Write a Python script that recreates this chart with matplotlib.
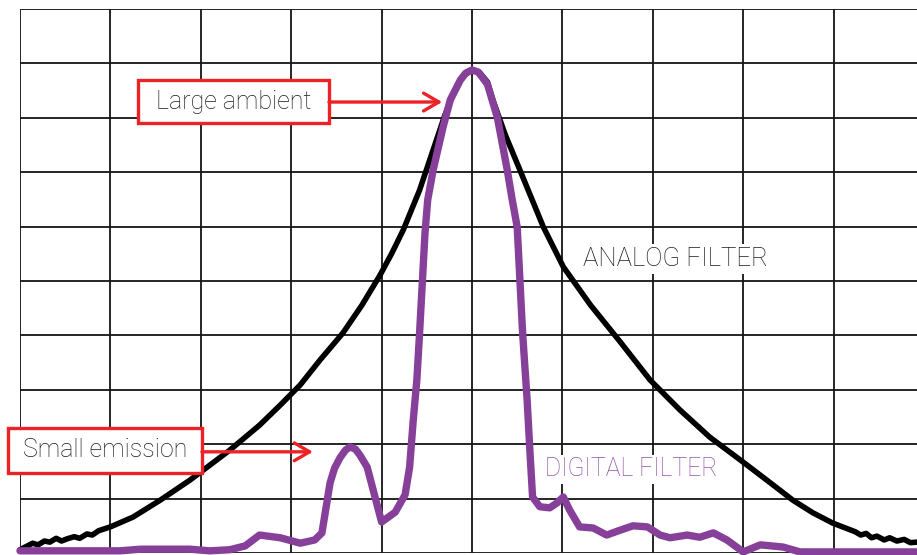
import matplotlib
matplotlib.use("Agg")
import matplotlib.pyplot as plt
from matplotlib.patches import Rectangle

# ---------------------------------------------------------------
# Data (grid units: 1 unit = 1 grid division)
# ---------------------------------------------------------------
analog_x = [0.0, 0.07, 0.14, 0.20, 0.27, 0.33, 0.40, 0.46, 0.52, 0.60, 0.66, 0.74,
            0.80, 0.87, 1.0, 1.25, 1.55, 1.88, 2.32, 2.65, 2.88, 3.10, 3.32, 3.57,
            3.78, 3.98, 4.11, 4.24, 4.42, 4.57, 4.70, 4.81, 4.90, 5.0, 5.09, 5.17,
            5.23, 5.37, 5.53, 5.79, 6.01, 6.31, 6.64, 6.97, 7.30, 7.63, 8.0, 8.30,
            8.55, 8.77, 8.99, 9.24, 9.30, 9.36, 9.42, 9.48, 9.56, 9.62, 9.70, 9.78,
            9.85, 9.92]
analog_y = [0.06, 0.12, 0.18, 0.15, 0.22, 0.20, 0.27, 0.22, 0.26, 0.30, 0.27, 0.35,
            0.33, 0.41, 0.48, 0.66, 0.97, 1.34, 1.89, 2.35, 2.72, 3.09, 3.55, 4.04,
            4.55, 5.10, 5.50, 5.94, 6.67, 7.41, 8.05, 8.51, 8.77, 8.88, 8.82, 8.66,
            8.33, 7.68, 7.04, 5.99, 5.26, 4.56, 3.88, 3.18, 2.63, 2.13, 1.67, 1.29,
            0.97, 0.74, 0.55, 0.39, 0.33, 0.36, 0.28, 0.31, 0.24, 0.28, 0.22, 0.25,
            0.19, 0.20]

digital_x = [0.0, 1.11, 1.33, 1.88, 2.10, 2.32, 2.49, 2.65, 2.88, 3.10, 3.26, 3.34,
             3.43, 3.48, 3.54, 3.60, 3.65, 3.71, 3.76, 3.84, 4.0, 4.15, 4.26, 4.31,
             4.35, 4.39, 4.42, 4.45, 4.48, 4.51, 4.57, 4.68, 4.76, 4.87, 4.93, 5.0,
             5.07, 5.12, 5.17, 5.28, 5.39, 5.44, 5.50, 5.53, 5.56, 5.61, 5.64, 5.67,
             5.75, 5.86, 5.94, 6.01, 6.08, 6.19, 6.34, 6.49, 6.64, 6.78, 6.94, 7.08,
             7.19, 7.38, 7.52, 7.67, 7.82, 8.0, 8.19, 8.44, 8.63, 9.92]
digital_y = [0.04, 0.04, 0.07, 0.07, 0.04, 0.06, 0.13, 0.33, 0.28, 0.18, 0.24, 0.37,
             1.29, 1.56, 1.75, 1.89, 1.95, 1.91, 1.80, 1.58, 0.57, 0.75, 1.07, 1.58,
             2.44, 3.18, 4.04, 4.96, 5.88, 6.49, 7.04, 7.83, 8.33, 8.69, 8.82, 8.88,
             8.84, 8.73, 8.62, 8.01, 7.04, 6.54, 5.99, 5.02, 4.04, 2.81, 1.89, 1.03,
             0.85, 0.83, 0.92, 1.03, 0.79, 0.48, 0.46, 0.33, 0.42, 0.50, 0.48, 0.33,
             0.28, 0.33, 0.29, 0.37, 0.24, 0.02, 0.15, 0.11, 0.02, 0.02]

grid_cols = list(range(0, 10))
grid_rows = list(range(0, 11))

red = '#ec2227'
purple = '#87409a'
purple_txt = '#9652aa'
txt = '#1c1c1c'

plt.rcParams['font.family'] = ['Roboto', 'DejaVu Sans']

fig = plt.figure(figsize=(9.17, 5.55), dpi=100)
ax = fig.add_axes([20/917, 2/555, 897/917, 544/555])
ax.set_xlim(0, 897/90.4)
ax.set_ylim(0, 10)
ax.axis('off')

#------------------ grid ------------------------------------------
for c in grid_cols:
    ax.axvline(c, color='#141414', lw=1.3, zorder=1)
for r in grid_rows:
    ax.axhline(r, color='#141414', lw=1.3, zorder=1)

#------------------ curves ----------------------------------------
ax.plot(analog_x, analog_y, color='black', lw=4.0, zorder=3,
        solid_capstyle='round', solid_joinstyle='round', clip_on=False)
ax.plot(digital_x, digital_y, color=purple, lw=5.3, zorder=4,
        solid_capstyle='round', solid_joinstyle='round', clip_on=False)

#------------------ curve names -----------------------------------
ax.text(6.23, 5.40, 'ANALOG FILTER', fontsize=18.5, fontweight='light',
        color=txt, va='center', ha='left', zorder=2,
        bbox=dict(facecolor='white', edgecolor='none', pad=2))
ax.text(5.81, 1.54, 'DIGITAL FILTER', fontsize=17.8, fontweight='light',
        color=purple_txt, va='center', ha='left', zorder=2,
        bbox=dict(facecolor='white', edgecolor='none', pad=2))

#------------------ callouts --------------------------------------
arrow = dict(arrowstyle='->,head_length=0.55,head_width=0.32', color=red, lw=2.4,
             mutation_scale=20, shrinkA=0, shrinkB=0)

def callout(label, box_x0, box_x1, box_y0, box_y1, tip):
    ax.add_patch(Rectangle((box_x0, box_y0), box_x1 - box_x0, box_y1 - box_y0,
                           facecolor='white', edgecolor=red, lw=2.4,
                           zorder=6, clip_on=False))
    ax.text((box_x0 + box_x1) / 2, (box_y0 + box_y1) / 2, label, fontsize=18,
            fontweight='light', color=txt, ha='center', va='center', zorder=7)
    ax.annotate('', xy=tip, xytext=(box_x1, tip[1]), arrowprops=arrow,
                zorder=6, annotation_clip=False)

callout('Large ambient', 1.305, 3.418, 7.904, 8.695, (4.67, 8.29))
callout('Small emission', -0.133, 2.013, 1.471, 2.298, (3.24, 1.86))

fig.savefig('out.png', dpi=100, facecolor='white')
